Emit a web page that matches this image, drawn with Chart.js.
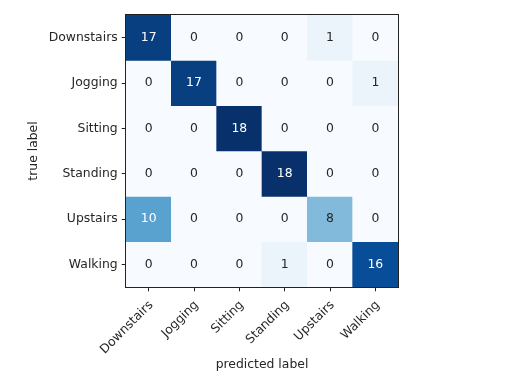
<!DOCTYPE html>
<html>
<head>
<meta charset="utf-8">
<script src="https://cdn.jsdelivr.net/npm/chart.js@4/dist/chart.umd.min.js"></script>
<style>
  html, body { margin: 0; padding: 0; background: #ffffff; }
  canvas { display: block; }
</style>
</head>
<body>
<canvas id="c" width="516" height="380"></canvas>
<script>
// ---- data ----
const predictedLabels = ['Downstairs', 'Jogging', 'Sitting', 'Standing', 'Upstairs', 'Walking'];
const trueLabels = ['Downstairs', 'Jogging', 'Sitting', 'Standing', 'Upstairs', 'Walking'];
const rowDownstairs = [17, 0, 0, 0, 1, 0];
const rowJogging    = [0, 17, 0, 0, 0, 1];
const rowSitting    = [0, 0, 18, 0, 0, 0];
const rowStanding   = [0, 0, 0, 18, 0, 0];
const rowUpstairs   = [10, 0, 0, 0, 8, 0];
const rowWalking    = [0, 0, 0, 1, 0, 16];
const matrix = [rowDownstairs, rowJogging, rowSitting, rowStanding, rowUpstairs, rowWalking];
const xTitle = 'predicted label';
const yTitle = 'true label';

// ---- colour map (matplotlib "Blues") ----
const bluesStops = ['#f7fbff','#deebf7','#c6dbef','#9ecae1','#6baed6','#4292c6','#2171b5','#08519c','#08306b'];
function hexToRgb(h){ return [parseInt(h.slice(1,3),16), parseInt(h.slice(3,5),16), parseInt(h.slice(5,7),16)]; }
function blues(t){
  t = Math.max(0, Math.min(1, t));
  const pos = t * (bluesStops.length - 1);
  const i = Math.min(bluesStops.length - 2, Math.floor(pos));
  const f = pos - i;
  const a = hexToRgb(bluesStops[i]), b = hexToRgb(bluesStops[i+1]);
  const c = a.map((v,k) => Math.round(v + (b[k]-v)*f));
  return 'rgb(' + c.join(',') + ')';
}
const vmax = Math.max(...matrix.flat());
const vmin = 0;

const FONT = 'DejaVu Sans';
const FS = 12.4;
const TEXT = '#262626';

const datasets = trueLabels.map((lbl, i) => ({
  label: lbl,
  data: predictedLabels.map(() => [i, i + 1]),
  backgroundColor: matrix[i].map(v => blues((v - vmin) / (vmax - vmin))),
  borderWidth: 0,
  barPercentage: 1,
  categoryPercentage: 1
}));

const cellText = {
  id: 'cellText',
  afterDatasetsDraw(chart) {
    const ctx = chart.ctx;
    ctx.save();
    ctx.font = FS + 'px "' + FONT + '"';
    ctx.textAlign = 'center';
    ctx.textBaseline = 'middle';
    chart.data.datasets.forEach((ds, i) => {
      const meta = chart.getDatasetMeta(i);
      meta.data.forEach((el, j) => {
        const v = matrix[i][j];
        ctx.fillStyle = v > vmax / 2 ? '#ffffff' : TEXT;
        ctx.fillText(String(v), el.x, (el.y + el.base) / 2);
      });
    });
    const a = chart.chartArea;
    ctx.strokeStyle = '#222';
    ctx.lineWidth = 1;
    ctx.strokeRect(Math.round(a.left) - 0.5, Math.round(a.top) - 0.5, Math.round(a.right - a.left) + 1, Math.round(a.bottom - a.top) + 1);
    ctx.restore();
  }
};

new Chart(document.getElementById('c'), {
  type: 'bar',
  data: { labels: predictedLabels, datasets: datasets },
  options: {
    responsive: false,
    animation: false,
    devicePixelRatio: 1,
    layout: { padding: { top: 15, right: 118, left: 0, bottom: 0 } },
    plugins: { legend: { display: false }, tooltip: { enabled: false } },
    scales: {
      x: {
        type: 'category',
        stacked: true,
        offset: true,
        afterFit(s) { s.height = 93; },
        grid: { offset: false, drawOnChartArea: false, drawTicks: true, tickLength: 4.3, tickColor: '#222', tickWidth: 1 },
        border: { display: false },
        ticks: { font: { family: FONT, size: FS }, color: TEXT, maxRotation: 45, minRotation: 45, padding: 6.5, labelOffset: 2.5, autoSkip: false },
        title: { display: true, text: xTitle, font: { family: FONT, size: FS }, color: TEXT, padding: { top: 0, bottom: 7.5 } }
      },
      y: {
        type: 'linear',
        stacked: false,
        min: 0,
        max: trueLabels.length,
        reverse: true,
        afterFit(s) { s.width = 126; },
        afterBuildTicks(s) { s.ticks = trueLabels.map((_, i) => ({ value: i + 0.5 })); },
        grid: { drawOnChartArea: false, drawTicks: true, tickLength: 4.3, tickColor: '#222', tickWidth: 1 },
        border: { display: false },
        ticks: {
          font: { family: FONT, size: FS }, color: TEXT, padding: 4, autoSkip: false,
          callback: (v) => trueLabels[Math.floor(v)]
        },
        title: { display: true, text: yTitle, font: { family: FONT, size: FS }, color: TEXT, padding: { top: 26, bottom: 0 } }
      }
    }
  },
  plugins: [cellText]
});
</script>
</body>
</html>
